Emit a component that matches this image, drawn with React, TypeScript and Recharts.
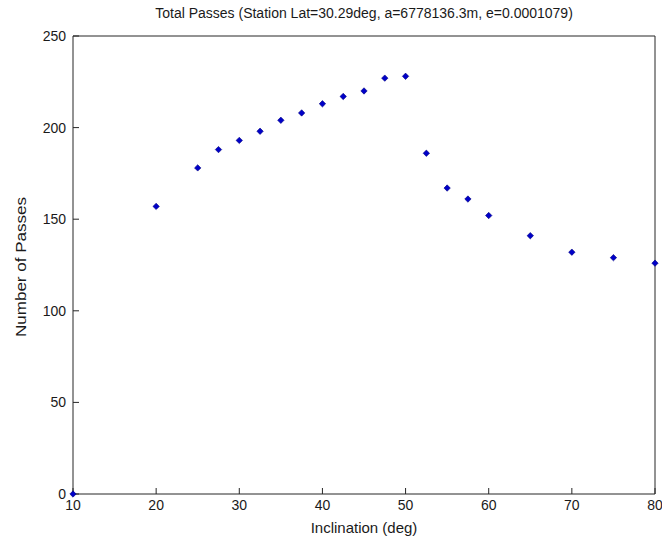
import React from 'react';
import { ScatterChart, Scatter, XAxis, YAxis, Label } from 'recharts';

const inclinations = [10, 20, 25, 27.5, 30, 32.5, 35, 37.5, 40, 42.5, 45, 47.5, 50, 52.5, 55, 57.5, 60, 65, 70, 75, 80];
const passes = [0, 157, 178, 188, 193, 198, 204, 208, 213, 217, 220, 227, 228, 186, 167, 161, 152, 141, 132, 129, 126];
const xTicks = [10, 20, 30, 40, 50, 60, 70, 80];
const yTicks = [0, 50, 100, 150, 200, 250];

const title = 'Total Passes (Station Lat=30.29deg, a=6778136.3m, e=0.0001079)';
const FONT = '"Liberation Sans", Arial, sans-serif';

const data = inclinations.map((inc, i) => ({ inc, n: passes[i] }));

const Dot = (props: any) => {
  const { cx, cy } = props;
  const r = 3.2;
  return (
    <polygon
      points={`${cx},${cy - r} ${cx + r},${cy} ${cx},${cy + r} ${cx - r},${cy}`}
      fill="#0000c8"
      stroke="#000080"
      strokeWidth={0.6}
    />
  );
};

const NoText = () => <g />;

const tickStyle = { fill: '#1a1a1a', fontSize: 14, fontFamily: FONT };
const axisStroke = '#262626';

export default function App() {
  return (
    <div style={{ position: 'absolute', left: 0, top: 0, width: 662, height: 544, background: '#fff' }}>
      <ScatterChart width={662} height={544} margin={{ top: 35, right: 6, bottom: 0, left: 0 }}>
        <XAxis
          xAxisId="bottom"
          dataKey="inc"
          type="number"
          domain={[10, 80]}
          ticks={xTicks}
          orientation="bottom"
          height={50}
          stroke={axisStroke}
          tickSize={-6}
          tickMargin={12}
          tick={tickStyle}
        >
          <Label
            value="Inclination (deg)"
            position="insideBottom"
            offset={11}
            style={{ fill: '#1a1a1a', fontSize: 15, fontFamily: FONT }}
          />
        </XAxis>
        <XAxis
          xAxisId="top"
          dataKey="inc"
          type="number"
          domain={[10, 80]}
          ticks={xTicks}
          orientation="top"
          height={1}
          stroke={axisStroke}
          tickSize={-6}
          tick={<NoText />}
        >
          <Label
            value={title}
            position="top"
            offset={17}
            style={{ fill: '#1a1a1a', fontSize: 14, fontFamily: FONT }}
          />
        </XAxis>
        <YAxis
          yAxisId="left"
          dataKey="n"
          type="number"
          domain={[0, 250]}
          ticks={yTicks}
          orientation="left"
          width={73}
          stroke={axisStroke}
          tickSize={-6}
          tickMargin={13}
          tick={tickStyle}
        >
          <Label
            content={({ viewBox }: any) => {
              const x = viewBox.x + 20;
              const y = viewBox.y + viewBox.height / 2 + 2;
              return (
                <text
                  x={x}
                  y={y}
                  transform={`rotate(-90, ${x}, ${y})`}
                  textAnchor="middle"
                  dominantBaseline="central"
                  textLength={140}
                  lengthAdjust="spacingAndGlyphs"
                  style={{ fill: '#1a1a1a', fontSize: 15, fontFamily: FONT }}
                >
                  Number of Passes
                </text>
              );
            }}
          />
        </YAxis>
        <YAxis
          yAxisId="right"
          dataKey="n"
          type="number"
          domain={[0, 250]}
          ticks={yTicks}
          orientation="right"
          width={1}
          stroke={axisStroke}
          tickSize={-6}
          tick={<NoText />}
        />
        <Scatter
          data={data}
          xAxisId="bottom"
          yAxisId="left"
          shape={<Dot />}
          isAnimationActive={false}
        />
      </ScatterChart>
    </div>
  );
}
